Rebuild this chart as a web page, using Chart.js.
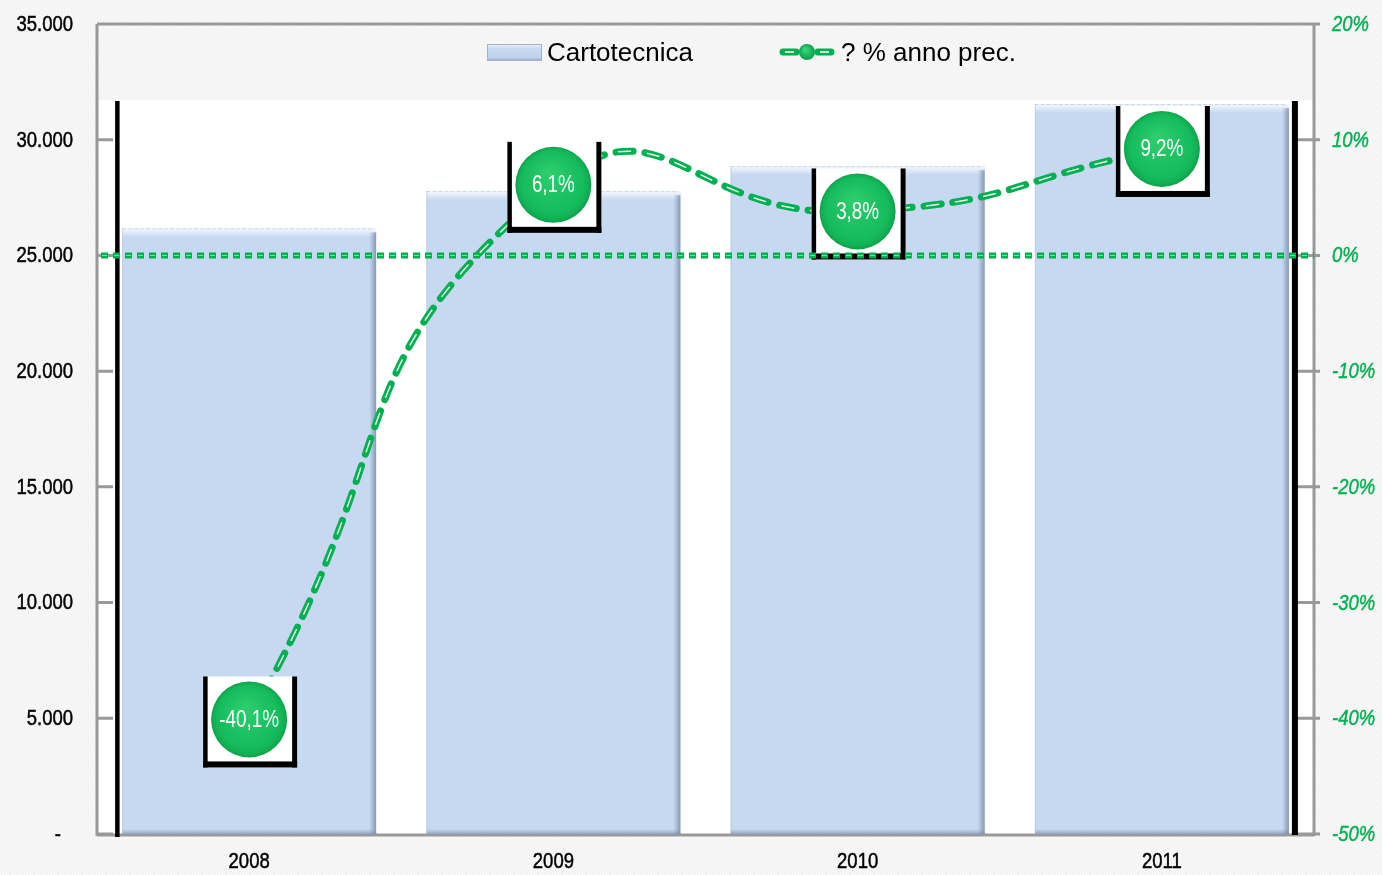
<!DOCTYPE html>
<html><head><meta charset="utf-8">
<script src="https://cdn.jsdelivr.net/npm/chart.js@4.4.1/dist/chart.umd.min.js"></script>
<style>html,body{margin:0;padding:0;background:#f5f5f5;overflow:hidden}canvas{display:block}</style>
</head><body>
<canvas id="c" width="1382" height="875"></canvas>
<script>
const years = ['2008', '2009', '2010', '2011'];
const cartotecnica = [26170, 27780, 28860, 31540];
const variazione = [-40.1, 6.1, 3.8, 9.2];
const variazioneLabels = ['-40,1%', '6,1%', '3,8%', '9,2%'];
const zeroLine = 0;
const leftMin = 0, leftMax = 35000, leftStep = 5000;
const rightMin = -50, rightMax = 20, rightStep = 10;
const seriesNames = ['Cartotecnica', '? % anno prec.'];

const GREEN = '#00B050';
const AXIS = '#999999';
const SANS = '"Liberation Sans", Arial, sans-serif';
const SX = 0.86;   // condensed rendering of axis texts

function fmt(v) { return String(v).replace(/\B(?=(\d{3})+(?!\d))/g, '.'); }
function leftLabel(v) { return v === 0 ? '-' : fmt(v); }
function rightLabel(v) { return v + '%'; }

function condText(ctx, text, x, y, align, font, color, sx, stroke) {
  ctx.save();
  ctx.font = font; ctx.fillStyle = color;
  ctx.textAlign = align; ctx.textBaseline = 'middle';
  ctx.scale(sx, 1);
  ctx.fillText(text, x / sx, y);
  if (stroke) { ctx.strokeStyle = color; ctx.lineWidth = stroke; ctx.strokeText(text, x / sx, y); }
  ctx.restore();
}

function texture(ctx) {
  const c = document.createElement('canvas');
  c.width = 6; c.height = 6;
  const g = c.getContext('2d');
  g.fillStyle = '#f6f6f6'; g.fillRect(0, 0, 6, 6);
  g.fillStyle = '#efefef';
  [[0,0],[3,1],[1,3],[4,4],[2,5],[5,2]].forEach(p => g.fillRect(p[0], p[1], 1, 1));
  g.fillStyle = '#fbfbfb';
  [[2,0],[5,3],[0,4],[3,3]].forEach(p => g.fillRect(p[0], p[1], 1, 1));
  return ctx.createPattern(c, 'repeat');
}

function bevelBar(ctx, x0, x1, top, bottom) {
  const w = x1 - x0;
  let g = ctx.createLinearGradient(0, top, 0, top + 9);
  g.addColorStop(0, 'rgba(255,255,255,0.85)');
  g.addColorStop(1, 'rgba(255,255,255,0)');
  ctx.fillStyle = g; ctx.fillRect(x0, top, w, 9);
  g = ctx.createLinearGradient(x1 - 7, 0, x1, 0);
  g.addColorStop(0, 'rgba(120,140,170,0)');
  g.addColorStop(1, 'rgba(110,130,160,0.75)');
  ctx.fillStyle = g; ctx.fillRect(x1 - 7, top + 4, 7, bottom - top - 4);
  g = ctx.createLinearGradient(0, bottom - 5, 0, bottom);
  g.addColorStop(0, 'rgba(120,140,170,0)');
  g.addColorStop(1, 'rgba(110,130,160,0.6)');
  ctx.fillStyle = g; ctx.fillRect(x0, bottom - 5, w, 5);
  ctx.save();
  ctx.strokeStyle = '#c9d6e6'; ctx.lineWidth = 1; ctx.setLineDash([4, 2]);
  ctx.beginPath(); ctx.moveTo(x0, top + 0.5); ctx.lineTo(x1 - 4, top + 0.5); ctx.stroke();
  ctx.strokeStyle = '#b2bfd0'; ctx.setLineDash([1, 1]);
  ctx.beginPath(); ctx.moveTo(x0 + 0.5, top); ctx.lineTo(x0 + 0.5, bottom); ctx.stroke();
  ctx.restore();
}

const deco = {
  id: 'deco',
  beforeDraw(chart) {
    const ctx = chart.ctx, a = chart.chartArea;
    ctx.save();
    ctx.fillStyle = texture(ctx);
    ctx.fillRect(0, 0, chart.width, chart.height);
    ctx.fillStyle = '#ffffff';
    ctx.fillRect(a.left, a.top + 76, a.right - a.left, a.bottom - a.top - 76);
    ctx.restore();
  },
  beforeDatasetsDraw(chart) {
    const ctx = chart.ctx, a = chart.chartArea;
    const ys = chart.scales.y, y1 = chart.scales.y1, xs = chart.scales.x;
    ctx.save();
    ctx.strokeStyle = AXIS; ctx.lineWidth = 3;
    ctx.beginPath();
    ctx.moveTo(a.left, a.top); ctx.lineTo(a.right + 6, a.top);
    ctx.moveTo(a.left, a.top); ctx.lineTo(a.left, a.bottom + 2);
    ctx.moveTo(a.right, a.top); ctx.lineTo(a.right, a.bottom + 2);
    ctx.moveTo(a.left, a.bottom + 1); ctx.lineTo(a.right, a.bottom + 1);
    ys.ticks.forEach(t => { const y = ys.getPixelForValue(t.value); ctx.moveTo(a.left, y); ctx.lineTo(a.left + 16, y); });
    y1.ticks.forEach(t => { const y = y1.getPixelForValue(t.value); ctx.moveTo(a.right - 17, y); ctx.lineTo(a.right + 6, y); });
    ctx.stroke();
    // axis labels (condensed)
    const f = '21.5px ' + SANS, fi = 'italic 21.5px ' + SANS;
    ys.ticks.forEach(t => {
      const y = ys.getPixelForValue(t.value) + 1;
      condText(ctx, leftLabel(t.value), t.value === 0 ? 61 : a.left - 24, y, 'right', f, '#000', SX, 0.5);
    });
    y1.ticks.forEach(t => {
      const y = y1.getPixelForValue(t.value) + 1;
      condText(ctx, rightLabel(t.value), a.right + 18, y, 'left', fi, GREEN, SX, 0.4);
    });
    xs.ticks.forEach((t, i) => {
      condText(ctx, years[i], xs.getPixelForTick(i), a.bottom + 28, 'center', f, '#000', SX, 0.5);
    });
    // black drop lines
    const m = chart.getDatasetMeta(0).data;
    const lx = m[0].x - m[0].width / 2 - 5;
    const rx = m[m.length - 1].x + m[m.length - 1].width / 2 + 6;
    ctx.fillStyle = '#000';
    ctx.fillRect(lx - 2, a.top + 77, 4.5, a.bottom - a.top - 77 + 3);
    ctx.fillRect(rx - 3, a.top + 77, 6, a.bottom - a.top - 77 + 1);
    ctx.restore();
  },
  afterDatasetDraw(chart, args) {
    if (args.index !== 0) return;
    const ctx = chart.ctx;
    ctx.save();
    chart.getDatasetMeta(0).data.forEach(el => {
      bevelBar(ctx, el.x - el.width / 2, el.x + el.width / 2, el.y, el.base);
    });
    ctx.restore();
  },
  afterDatasetsDraw(chart) {
    const ctx = chart.ctx, a = chart.chartArea;
    ctx.save();
    chart.getDatasetMeta(1).data.forEach((el, i) => {
      const cx = el.x, cy = el.y;
      const L = cx - 46, R = cx + 48, T = cy - 43, B = cy + 48;
      ctx.fillStyle = '#fff'; ctx.fillRect(L, T, R - L, B - T);
      ctx.fillStyle = '#000';
      ctx.fillRect(L, T, 4.5, B - T);
      ctx.fillRect(R - 5, T, 5, B - T);
      ctx.fillRect(L, B - 6, R - L, 6);
      const g = ctx.createRadialGradient(cx - 4, cy - 12, 2, cx, cy, 38);
      g.addColorStop(0, '#2ccd6c');
      g.addColorStop(0.8, '#16bb5c');
      g.addColorStop(0.93, '#10b053');
      g.addColorStop(1, '#0c9e49');
      ctx.fillStyle = g;
      ctx.beginPath(); ctx.arc(cx, cy, 38, 0, Math.PI * 2); ctx.fill();
      condText(ctx, variazioneLabels[i], cx, cy + 1, 'center', '23px ' + SANS, '#ffffff', 0.82);
    });
    // zero reference line
    const y0 = chart.scales.y1.getPixelForValue(zeroLine);
    ctx.strokeStyle = GREEN; ctx.lineWidth = 6; ctx.setLineDash([7, 5]);
    ctx.beginPath(); ctx.moveTo(a.left + 4, y0); ctx.lineTo(a.right, y0); ctx.stroke();
    ctx.strokeStyle = 'rgba(255,255,255,0.55)'; ctx.lineWidth = 1; ctx.setLineDash([5, 7]); ctx.lineDashOffset = -1;
    ctx.beginPath(); ctx.moveTo(a.left + 4, y0); ctx.lineTo(a.right, y0); ctx.stroke();
    ctx.restore();
  },
  afterDraw(chart) {
    const ctx = chart.ctx;
    ctx.save();
    let g = ctx.createLinearGradient(0, 44, 0, 61);
    g.addColorStop(0, '#eef3fa'); g.addColorStop(0.3, '#c6d9f1'); g.addColorStop(0.8, '#c0d3ec'); g.addColorStop(1, '#8ea2bd');
    ctx.fillStyle = g; ctx.fillRect(487, 44, 55, 17);
    ctx.strokeStyle = '#a5b2c4'; ctx.lineWidth = 1; ctx.strokeRect(487.5, 44.5, 54, 16);
    ctx.fillStyle = '#000'; ctx.font = '26px ' + SANS;
    ctx.textAlign = 'left'; ctx.textBaseline = 'alphabetic';
    ctx.fillText(seriesNames[0], 547, 61);
    const ly = 52;
    ctx.lineCap = 'round';
    ctx.strokeStyle = GREEN; ctx.lineWidth = 7;
    ctx.beginPath(); ctx.moveTo(783, ly); ctx.lineTo(796, ly); ctx.moveTo(818, ly); ctx.lineTo(831, ly); ctx.stroke();
    ctx.strokeStyle = '#fff'; ctx.lineWidth = 1.5; ctx.lineCap = 'butt';
    ctx.beginPath(); ctx.moveTo(785, ly); ctx.lineTo(794, ly); ctx.moveTo(820, ly); ctx.lineTo(829, ly); ctx.stroke();
    g = ctx.createRadialGradient(805, ly - 3, 1, 807, ly, 8);
    g.addColorStop(0, '#3ad579'); g.addColorStop(1, '#0aa04a');
    ctx.fillStyle = g; ctx.beginPath(); ctx.arc(807, ly, 8, 0, Math.PI * 2); ctx.fill();
    ctx.fillStyle = '#000'; ctx.fillText(seriesNames[1], 841, 61);
    ctx.restore();
  }
};

new Chart(document.getElementById('c'), {
  data: {
    labels: years,
    datasets: [
      { type: 'bar', label: seriesNames[0], data: cartotecnica, yAxisID: 'y', backgroundColor: '#c6d9f1', borderWidth: 0,
        barPercentage: 0.835, categoryPercentage: 1, order: 3 },
      { type: 'line', label: seriesNames[1], data: variazione, yAxisID: 'y1', borderColor: GREEN, borderWidth: 7,
        borderDash: [17, 12], borderCapStyle: 'round', tension: 0.55, pointRadius: 0, fill: false, order: 2 },
      { type: 'line', label: 'inner', data: variazione, yAxisID: 'y1', borderColor: 'rgba(255,255,255,0.9)', borderWidth: 1.5,
        borderDash: [13, 16], borderDashOffset: -2, tension: 0.55, pointRadius: 0, fill: false, order: 1 }
    ]
  },
  options: {
    responsive: false, animation: false, devicePixelRatio: 1,
    layout: { padding: { top: 24, left: 0, right: 0, bottom: 0 } },
    plugins: { legend: { display: false }, tooltip: { enabled: false } },
    scales: {
      x: { grid: { display: false, drawTicks: false }, border: { display: false },
           ticks: { display: false }, afterFit(s) { s.height = 41; } },
      y: { position: 'left', min: leftMin, max: leftMax,
           grid: { display: false, drawTicks: false }, border: { display: false },
           ticks: { display: false, stepSize: leftStep }, afterFit(s) { s.width = 97; } },
      y1: { position: 'right', min: rightMin, max: rightMax,
            grid: { display: false, drawTicks: false }, border: { display: false },
            ticks: { display: false, stepSize: rightStep }, afterFit(s) { s.width = 68; } }
    }
  },
  plugins: [deco]
});
</script>
</body></html>
